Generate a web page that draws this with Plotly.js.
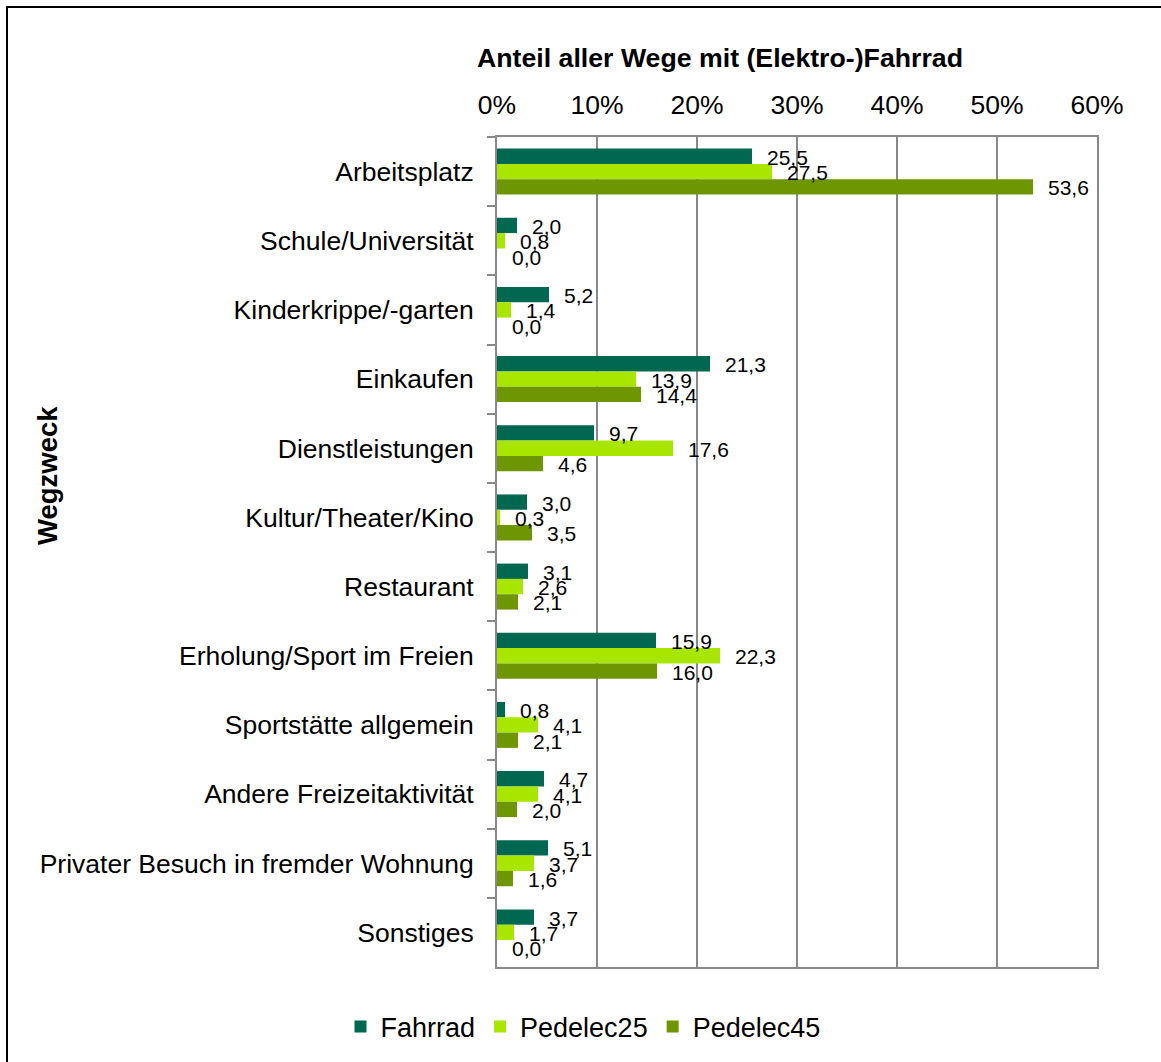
<!DOCTYPE html>
<html>
<head>
<meta charset="utf-8">
<script src="https://cdn.plot.ly/plotly-3.0.1.min.js"></script>
<style>
  html, body { margin: 0; padding: 0; background: #fff; }
  #frame { position: absolute; left: 6px; top: 6px; width: 1400px; height: 1200px;
           border-left: 2px solid #000; border-top: 2px solid #000; pointer-events: none; z-index: 5; }
  #chart { width: 1161px; height: 1062px; }
</style>
</head>
<body>
<div id="frame"></div>
<div id="chart"></div>
<script>
const categories = [
  "Arbeitsplatz", "Schule/Universität", "Kinderkrippe/-garten", "Einkaufen",
  "Dienstleistungen", "Kultur/Theater/Kino", "Restaurant", "Erholung/Sport im Freien",
  "Sportstätte allgemein", "Andere Freizeitaktivität", "Privater Besuch in fremder Wohnung", "Sonstiges"
];
const seriesNames = ["Fahrrad", "Pedelec25", "Pedelec45"];
const fahrrad   = [25.5, 2.0, 5.2, 21.3, 9.7, 3.0, 3.1, 15.9, 0.8, 4.7, 5.1, 3.7];
const pedelec25 = [27.5, 0.8, 1.4, 13.9, 17.6, 0.3, 2.6, 22.3, 4.1, 4.1, 3.7, 1.7];
const pedelec45 = [53.6, 0.0, 0.0, 14.4, 4.6, 3.5, 2.1, 16.0, 2.1, 2.0, 1.6, 0.0];
const xTickVals = [0, 10, 20, 30, 40, 50, 60];
const xTickText = ["0%", "10%", "20%", "30%", "40%", "50%", "60%"];

const seriesValues = [fahrrad, pedelec25, pedelec45];
const colors = ["#006750", "#A8E600", "#6E9600"];
const FONT = "Liberation Sans, Arial, sans-serif";

const W = 1161, H = 1062;
const margin = { l: 497, r: 64, t: 137, b: 95 };
const bargap = 0.335;
const plotH = H - margin.t - margin.b;
const barH = plotH / categories.length * (1 - bargap) / 3;

const fmt = v => v.toFixed(1).replace(".", ",");

const traces = seriesValues.map((vals, i) => ({
  type: "bar",
  orientation: "h",
  name: seriesNames[i],
  x: vals,
  y: categories,
  marker: { color: colors[i], line: { width: 0 } },
  hoverinfo: "x+y+name"
}));

const annotations = [];
seriesValues.forEach((vals, i) => {
  vals.forEach((v, j) => {
    annotations.push({
      x: v, y: categories[j], xref: "x", yref: "y",
      text: fmt(v), showarrow: false,
      xanchor: "left", yanchor: "middle",
      xshift: 13, yshift: -(i - 1) * barH - 1,
      font: { family: FONT, size: 21, color: "#000" }
    });
  });
});

annotations.push({
  text: "<b>Wegzweck</b>", textangle: -90, showarrow: false,
  xref: "paper", yref: "paper",
  x: (47 - margin.l) / (W - margin.l - margin.r),
  y: 1 - (476 - margin.t) / plotH,
  xanchor: "center", yanchor: "middle",
  font: { family: FONT, size: 27.5, color: "#000" }
});

const layout = {
  width: W, height: H,
  margin: margin,
  paper_bgcolor: "#fff", plot_bgcolor: "#fff",
  font: { family: FONT, size: 26, color: "#000" },
  barmode: "group",
  bargap: bargap,
  bargroupgap: 0,
  title: {
    text: "<b>Anteil aller Wege mit (Elektro-)Fahrrad</b>",
    xref: "container", yref: "container",
    x: 720 / W, y: 1 - 58 / H, xanchor: "center", yanchor: "middle",
    font: { family: FONT, size: 26.7, color: "#000" }
  },
  xaxis: {
    side: "top", range: [0, 60], tickvals: xTickVals, ticktext: xTickText,
    showgrid: true, gridcolor: "#888", gridwidth: 2,
    showline: true, linecolor: "#888", linewidth: 2, mirror: true,
    ticks: "", zeroline: false, ticklabelstandoff: 10,
    tickfont: { family: FONT, size: 26.5, color: "#000" }
  },
  yaxis: {
    type: "category", autorange: "reversed",
    showline: true, linecolor: "#888", linewidth: 2, mirror: true,
    ticks: "outside", tickson: "boundaries", ticklen: 8, tickcolor: "#888", tickwidth: 2,
    showgrid: false, zeroline: false, ticklabelstandoff: 16,
    tickfont: { family: FONT, size: 26.5, color: "#000" }
  },
  legend: {
    orientation: "h", xref: "container", yref: "container",
    x: 583 / W, xanchor: "center", y: 1 - 1027 / H, yanchor: "middle",
    font: { family: FONT, size: 27, color: "#000" },
    traceorder: "normal"
  },
  showlegend: true,
  annotations: annotations
};

Plotly.newPlot("chart", traces, layout, { displayModeBar: false, staticPlot: true });
</script>
</body>
</html>
